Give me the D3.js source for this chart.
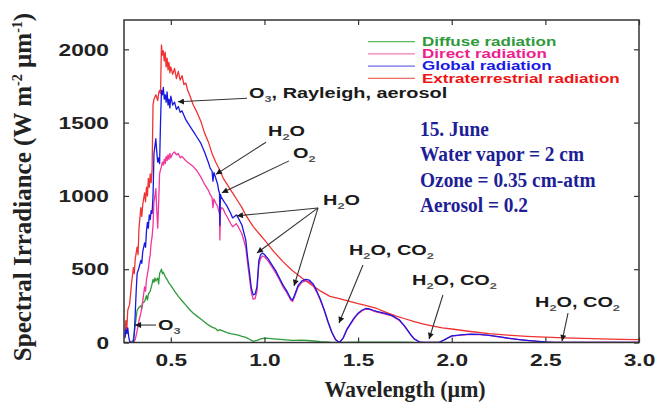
<!DOCTYPE html>
<html>
<head>
<meta charset="utf-8">
<script src="https://cdn.jsdelivr.net/npm/d3@7"></script>
<style>
  body { margin: 0; background: #fff; }
  svg { display: block; }
</style>
</head>
<body>
<script>
// values: [wavelength (um), irradiance (W m-2 um-1)]
var extraterrestrial = [[0.255,40],[0.26,150],[0.265,90],[0.27,220],[0.28,260],[0.29,400],[0.30,510],[0.305,470],[0.31,570],[0.32,650],[0.325,600],[0.33,780],[0.34,920],[0.345,860],[0.35,940],[0.36,1020],[0.365,960],[0.37,1060],[0.375,1000],[0.38,1120],[0.385,1060],[0.39,1150],[0.395,1090],[0.40,1180],[0.405,1620],[0.41,1660],[0.42,1690],[0.43,1650],[0.435,1700],[0.44,1720],[0.445,1700],[0.45,2030],[0.455,1960],[0.46,1990],[0.465,1920],[0.47,1980],[0.475,1880],[0.48,1940],[0.485,1860],[0.49,1910],[0.495,1840],[0.50,1880],[0.51,1830],[0.52,1870],[0.53,1800],[0.54,1850],[0.55,1790],[0.56,1820],[0.57,1760],[0.58,1770],[0.59,1720],[0.60,1690],[0.62,1620],[0.64,1570],[0.66,1510],[0.68,1430],[0.70,1370],[0.72,1290],[0.74,1230],[0.76,1180],[0.78,1120],[0.80,1080],[0.82,1040],[0.84,1000],[0.86,960],[0.88,920],[0.90,870],[0.92,830],[0.94,790],[0.96,760],[0.98,730],[1.00,700],[1.05,620],[1.10,550],[1.15,490],[1.20,440],[1.25,395],[1.30,350],[1.35,315],[1.40,300],[1.45,282],[1.50,265],[1.55,250],[1.60,232],[1.65,205],[1.70,182],[1.75,162],[1.80,143],[1.85,125],[1.90,112],[1.95,100],[2.00,92],[2.10,75],[2.20,60],[2.30,50],[2.40,42],[2.50,36],[2.60,32],[2.70,28],[2.80,25],[2.90,22],[3.00,20]];

var globalRad = [[0.255,30],[0.26,90],[0.265,60],[0.27,100],[0.275,40],[0.28,10],[0.29,0],[0.30,0],[0.305,60],[0.31,200],[0.315,350],[0.32,470],[0.33,510],[0.34,560],[0.345,540],[0.35,620],[0.36,680],[0.365,650],[0.37,760],[0.375,820],[0.38,780],[0.385,870],[0.39,840],[0.395,900],[0.40,880],[0.405,1000],[0.41,1290],[0.415,1340],[0.42,1390],[0.425,1300],[0.43,1230],[0.435,1260],[0.44,1220],[0.445,1500],[0.45,1720],[0.455,1690],[0.46,1740],[0.465,1660],[0.47,1690],[0.475,1640],[0.48,1710],[0.485,1620],[0.49,1660],[0.495,1600],[0.50,1680],[0.51,1620],[0.52,1640],[0.53,1590],[0.54,1610],[0.55,1570],[0.56,1580],[0.58,1520],[0.60,1480],[0.62,1440],[0.64,1400],[0.66,1360],[0.68,1300],[0.70,1230],[0.71,1190],[0.72,1170],[0.725,1100],[0.73,1160],[0.74,1120],[0.75,1080],[0.755,1040],[0.76,1020],[0.762,800],[0.765,1010],[0.77,990],[0.78,970],[0.79,950],[0.80,930],[0.82,880],[0.83,850],[0.84,860],[0.85,870],[0.86,850],[0.88,800],[0.90,700],[0.91,580],[0.92,480],[0.93,370],[0.94,325],[0.95,330],[0.96,380],[0.97,560],[0.98,600],[0.99,610],[1.00,600],[1.02,570],[1.04,530],[1.06,490],[1.08,440],[1.10,390],[1.12,350],[1.14,300],[1.15,290],[1.16,320],[1.18,390],[1.20,420],[1.22,430],[1.24,425],[1.26,400],[1.28,350],[1.30,290],[1.32,220],[1.34,140],[1.36,70],[1.38,20],[1.40,0],[1.42,30],[1.44,90],[1.46,130],[1.48,170],[1.50,200],[1.52,220],[1.54,232],[1.56,230],[1.58,220],[1.60,212],[1.64,200],[1.68,185],[1.72,155],[1.75,110],[1.78,55],[1.80,25],[1.83,2],[1.85,0],[1.93,0],[1.96,18],[2.00,45],[2.05,52],[2.10,57],[2.15,55],[2.20,49],[2.25,40],[2.30,30],[2.35,22],[2.40,15],[2.45,9],[2.50,4],[2.55,1],[2.60,0],[3.00,0]];

var direct = [[0.28,0],[0.30,0],[0.31,20],[0.32,80],[0.33,150],[0.34,200],[0.35,280],[0.36,380],[0.365,350],[0.37,430],[0.38,500],[0.385,560],[0.39,600],[0.395,680],[0.40,720],[0.405,800],[0.41,960],[0.415,1000],[0.42,1050],[0.425,900],[0.43,780],[0.435,950],[0.44,1150],[0.445,1180],[0.45,1200],[0.455,1230],[0.46,1210],[0.465,1250],[0.47,1220],[0.475,1270],[0.48,1240],[0.485,1280],[0.49,1250],[0.495,1290],[0.50,1260],[0.51,1290],[0.52,1300],[0.53,1280],[0.54,1290],[0.55,1260],[0.56,1270],[0.58,1240],[0.60,1220],[0.62,1200],[0.64,1170],[0.66,1130],[0.68,1080],[0.70,1040],[0.71,1010],[0.72,990],[0.725,920],[0.73,980],[0.74,950],[0.75,930],[0.755,900],[0.76,880],[0.762,700],[0.765,900],[0.77,920],[0.78,910],[0.79,880],[0.80,860],[0.82,810],[0.83,790],[0.84,800],[0.85,810],[0.86,790],[0.88,740],[0.90,650],[0.91,540],[0.92,440],[0.93,340],[0.94,295],[0.95,300],[0.96,350],[0.97,530],[0.98,575],[0.99,590],[1.00,585],[1.02,555],[1.04,515],[1.06,475],[1.08,428],[1.10,378],[1.12,338],[1.14,290],[1.15,280],[1.16,310],[1.18,378],[1.20,410],[1.22,420],[1.24,415],[1.26,390],[1.28,342],[1.30,283],[1.32,214],[1.34,136],[1.36,67],[1.38,18],[1.40,0],[1.42,28],[1.44,86],[1.46,125],[1.48,165],[1.50,195],[1.52,215],[1.54,227],[1.56,226],[1.58,216],[1.60,208],[1.64,196],[1.68,181],[1.72,151],[1.75,107],[1.78,53],[1.80,24],[1.83,2],[1.85,0],[1.93,0],[1.96,17],[2.00,44],[2.05,51],[2.10,56],[2.15,54],[2.20,48],[2.25,39],[2.30,29],[2.35,21],[2.40,14],[2.45,8],[2.50,3],[2.55,0],[3.00,0]];

var diffuse = [[0.29,0],[0.30,20],[0.31,120],[0.32,220],[0.33,240],[0.34,250],[0.345,230],[0.35,270],[0.36,280],[0.37,320],[0.375,290],[0.38,330],[0.39,350],[0.40,400],[0.405,430],[0.41,410],[0.415,440],[0.42,420],[0.43,440],[0.435,400],[0.44,470],[0.45,500],[0.455,470],[0.46,480],[0.47,450],[0.48,430],[0.49,405],[0.50,390],[0.52,350],[0.54,315],[0.56,285],[0.58,255],[0.60,225],[0.62,200],[0.64,180],[0.66,160],[0.68,140],[0.70,120],[0.72,105],[0.74,95],[0.75,80],[0.76,88],[0.78,78],[0.80,68],[0.82,60],[0.84,55],[0.86,50],[0.88,42],[0.90,35],[0.92,22],[0.94,8],[0.96,15],[0.98,25],[1.00,30],[1.02,28],[1.05,25],[1.10,20],[1.15,14],[1.20,16],[1.25,12],[1.30,6],[1.35,2],[1.40,0],[1.50,2],[1.60,2],[1.70,2],[1.80,1]];

var xTicks = [0.5, 1.0, 1.5, 2.0, 2.5, 3.0];
var yTicks = [0, 500, 1000, 1500, 2000];

var legendNames = ["Diffuse radiation", "Direct radiation", "Global radiation", "Extraterrestrial radiation"];
var conditions = ["15. June", "Water vapor = 2 cm", "Ozone = 0.35 cm-atm", "Aerosol = 0.2"];

// absorption notes, placed in data units: text anchor, arrow start, arrow tips
var notes = [
	{ parts: [["O"], ["3", 1], [", Rayleigh, aerosol"]], at: [0.9175, 1666], from: [0.907, 1666], to: [[0.538, 1642]] },
	{ parts: [["H"], ["2", 1], ["O"]], at: [1.019, 1407], from: [1.008, 1366], to: [[0.741, 1147]] },
	{ parts: [["O"], ["2", 1]], at: [1.152, 1260], from: [1.131, 1239], to: [[0.773, 1021]] },
	{ parts: [["H"], ["2", 1], ["O"]], at: [1.313, 939], from: [1.286, 918], to: [[0.853, 864], [0.960, 611], [1.158, 386]] },
	{ parts: [["H"], ["2", 1], ["O, CO"], ["2", 1]], at: [1.451, 597], from: [1.526, 529], to: [[1.398, 133]] },
	{ parts: [["H"], ["2", 1], ["O, CO"], ["2", 1]], at: [1.788, 393], from: [1.953, 324], to: [[1.879, 24]] },
	{ parts: [["H"], ["2", 1], ["O, CO"], ["2", 1]], at: [2.445, 242], from: [2.621, 201], to: [[2.589, 10]] },
	{ parts: [["O"], ["3", 1]], at: [0.432, 85], from: [0.421, 119], to: [[0.309, 119]] }
];

var W = 671, H = 407;
var margin = { top: 20, right: 32, bottom: 64.5, left: 124 };
var SANS = "'Liberation Sans', Arial, sans-serif";
var SERIF = "'Liberation Serif', 'Times New Roman', serif";
var WIDE = 1.42; // the sans lettering in the picture is stretched sideways

var svg = d3.select("body").append("svg")
	.attr("width", W)
	.attr("height", H);

var x = d3.scaleLinear().domain([0.25, 3.0]).range([margin.left, W - margin.right]);
var y = d3.scaleLinear().domain([0, 2200]).range([H - margin.bottom, margin.top]);

var defs = svg.append("defs");
defs.append("clipPath").attr("id", "plot")
	.append("rect")
	.attr("x", x(0.25)).attr("y", y(2200))
	.attr("width", x(3.0) - x(0.25)).attr("height", y(0) - y(2200));
defs.append("marker")
	.attr("id", "head")
	.attr("viewBox", "0 0 10 10")
	.attr("refX", 10).attr("refY", 5)
	.attr("markerWidth", 7).attr("markerHeight", 6)
	.attr("markerUnits", "userSpaceOnUse")
	.attr("orient", "auto")
	.append("path")
	.attr("d", "M0,0 L10,5 L0,10 z")
	.attr("fill", "#1a1a1a");

// curves
var line = d3.line()
	.x(function(d) { return x(d[0]); })
	.y(function(d) { return y(d[1]); });

var series = [
	{ data: extraterrestrial, colour: "#f03232" },
	{ data: diffuse, colour: "#2f9a3c" },
	{ data: direct, colour: "#f2359a" },
	{ data: globalRad, colour: "#1818e0" }
];

svg.append("g").attr("clip-path", "url(#plot)")
	.selectAll("path")
	.data(series)
	.enter().append("path")
	.attr("d", function(d) { return line(d.data); })
	.attr("fill", "none")
	.attr("stroke", function(d) { return d.colour; })
	.attr("stroke-width", 1.3)
	.attr("stroke-linejoin", "round");

// axes, ticks pointing inwards on all four sides
var bottom = svg.append("g")
	.attr("transform", "translate(0," + y(0) + ")")
	.call(d3.axisBottom(x).tickValues(xTicks).tickFormat(d3.format(".1f")).tickSizeInner(-5).tickSizeOuter(0));
var left = svg.append("g")
	.attr("transform", "translate(" + x(0.25) + ",0)")
	.call(d3.axisLeft(y).tickValues(yTicks).tickFormat(d3.format("d")).tickSizeInner(-5).tickSizeOuter(0));
svg.append("g")
	.attr("transform", "translate(0," + y(2200) + ")")
	.call(d3.axisTop(x).tickValues(xTicks).tickFormat("").tickSizeInner(-5).tickSizeOuter(0));
svg.append("g")
	.attr("transform", "translate(" + x(3.0) + ",0)")
	.call(d3.axisRight(y).tickValues(yTicks).tickFormat("").tickSizeInner(-5).tickSizeOuter(0));

svg.selectAll(".domain").remove();
svg.selectAll(".tick line").attr("stroke", "#333").attr("stroke-width", 1.2);

bottom.selectAll("text")
	.attr("y", 23.5).attr("dy", 0)
	.attr("transform", "scale(" + WIDE + ",1)")
	.attr("font-family", SANS).attr("font-weight", "bold").attr("font-size", 16)
	.attr("fill", "#222");
left.selectAll("text")
	.attr("x", -15 / WIDE).attr("dy", "0.36em")
	.attr("transform", "scale(" + WIDE + ",1)")
	.attr("font-family", SANS).attr("font-weight", "bold").attr("font-size", 16)
	.attr("fill", "#222");

svg.append("rect")
	.attr("x", x(0.25)).attr("y", y(2200))
	.attr("width", x(3.0) - x(0.25)).attr("height", y(0) - y(2200))
	.attr("fill", "none")
	.attr("stroke", "#333")
	.attr("stroke-width", 1.5);

// axis titles
svg.append("text")
	.attr("transform", "translate(405,397) scale(0.95,1)")
	.attr("text-anchor", "middle")
	.attr("font-family", SERIF).attr("font-weight", "bold").attr("font-size", 23)
	.attr("fill", "#222")
	.text("Wavelength (\u00b5m)");

var ytitle = svg.append("text")
	.attr("transform", "translate(31,187) rotate(-90)")
	.attr("text-anchor", "middle")
	.attr("font-family", SERIF).attr("font-weight", "bold").attr("font-size", 25)
	.attr("fill", "#222");
ytitle.append("tspan").text("Spectral Irradiance (W m");
ytitle.append("tspan").attr("font-size", 14).attr("dy", -9).text("-2");
ytitle.append("tspan").attr("dy", 9).text(" \u00b5m");
ytitle.append("tspan").attr("font-size", 14).attr("dy", -9).text("-1");
ytitle.append("tspan").attr("dy", 9).text(")");

// legend
var legendColours = ["#2f9a3c", "#ee1f8e", "#1a1ae6", "#ee1515"];
var legendLine = ["#5cb865", "#f47ab8", "#6d6dea", "#f06a6a"];
var legend = svg.append("g")
	.selectAll("g")
	.data(legendNames)
	.enter().append("g")
	.attr("transform", function(d, i) { return "translate(368," + (41.7 + i * 12.2) + ")"; });
legend.append("line")
	.attr("x1", 0).attr("x2", 47)
	.attr("stroke", function(d, i) { return legendLine[i]; })
	.attr("stroke-width", 1.3);
legend.append("text")
	.attr("transform", "translate(54,4.3) scale(" + WIDE + ",1)")
	.attr("font-family", SANS).attr("font-weight", "bold").attr("font-size", 12)
	.attr("fill", function(d, i) { return legendColours[i]; })
	.text(function(d) { return d; });

// conditions
svg.append("g")
	.selectAll("text")
	.data(conditions)
	.enter().append("text")
	.attr("transform", function(d, i) { return "translate(420," + (135.5 + i * 25.6) + ") scale(0.88,1)"; })
	.attr("font-family", SERIF).attr("font-weight", "bold").attr("font-size", 22)
	.attr("fill", "#1e1e96")
	.text(function(d) { return d; });

// notes with arrows
var noteG = svg.append("g");
notes.forEach(function(n) {
	n.to.forEach(function(t) {
		noteG.append("line")
			.attr("x1", x(n.from[0])).attr("y1", y(n.from[1]))
			.attr("x2", x(t[0])).attr("y2", y(t[1]))
			.attr("stroke", "#333")
			.attr("stroke-width", 1.1)
			.attr("marker-end", "url(#head)");
	});
	var txt = noteG.append("text")
		.attr("transform", "translate(" + x(n.at[0]) + "," + y(n.at[1]) + ") scale(" + WIDE + ",1)")
		.attr("font-family", SANS).attr("font-weight", "bold").attr("font-size", 14)
		.attr("fill", "#1a1a1a");
	var shift = 0;
	n.parts.forEach(function(p) {
		var sub = p[1] === 1;
		var ts = txt.append("tspan").text(p[0]);
		if (sub) {
			ts.attr("font-size", 9).attr("dy", 4 - shift).attr("fill", "#555");
			shift = 4;
		} else {
			ts.attr("dy", -shift);
			shift = 0;
		}
	});
});
</script>
</body>
</html>
